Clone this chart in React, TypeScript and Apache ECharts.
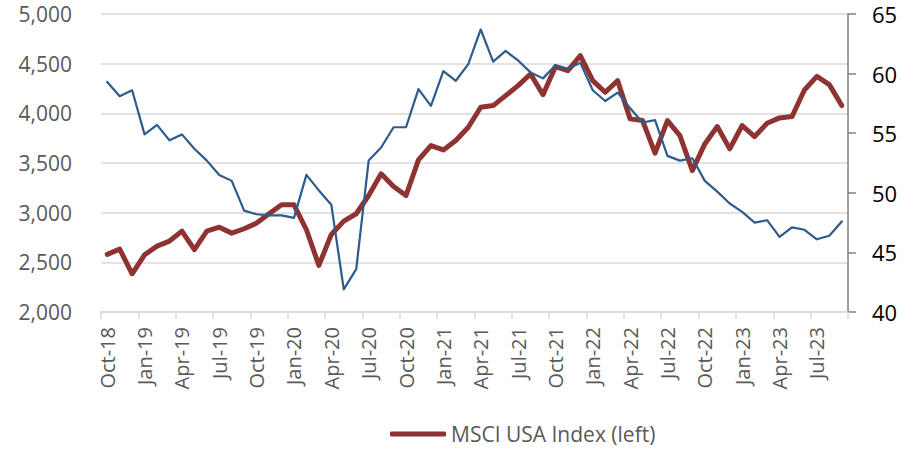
import React, { useEffect, useRef } from "react";
import * as echarts from "echarts";

const months: string[] = [
  "Oct-18", "Nov-18", "Dec-18",
  "Jan-19", "Feb-19", "Mar-19", "Apr-19", "May-19", "Jun-19", "Jul-19", "Aug-19", "Sep-19", "Oct-19", "Nov-19", "Dec-19",
  "Jan-20", "Feb-20", "Mar-20", "Apr-20", "May-20", "Jun-20", "Jul-20", "Aug-20", "Sep-20", "Oct-20", "Nov-20", "Dec-20",
  "Jan-21", "Feb-21", "Mar-21", "Apr-21", "May-21", "Jun-21", "Jul-21", "Aug-21", "Sep-21", "Oct-21", "Nov-21", "Dec-21",
  "Jan-22", "Feb-22", "Mar-22", "Apr-22", "May-22", "Jun-22", "Jul-22", "Aug-22", "Sep-22", "Oct-22", "Nov-22", "Dec-22",
  "Jan-23", "Feb-23", "Mar-23", "Apr-23", "May-23", "Jun-23", "Jul-23", "Aug-23", "Sep-23",
];

const msciUsa: number[] = [
  2580, 2633, 2385, 2576, 2663, 2714, 2814, 2627, 2814, 2854,
  2794, 2838, 2895, 2989, 3079, 3079, 2828, 2469, 2781, 2915,
  2989, 3173, 3391, 3263, 3173, 3531, 3676, 3632, 3726, 3860,
  4061, 4078, 4178, 4279, 4396, 4188, 4470, 4430, 4580, 4329,
  4212, 4329, 3944, 3927, 3599, 3927, 3776, 3424, 3692, 3867,
  3642, 3877, 3766, 3900, 3954, 3967, 4235, 4372, 4289, 4078,
];

const pmi: number[] = [
  59.3, 58.1, 58.6, 54.9, 55.7, 54.4, 54.9, 53.7, 52.7, 51.5,
  51.0, 48.5, 48.2, 48.1, 48.1, 47.9, 51.5, 50.2, 49.0, 41.9,
  43.6, 52.7, 53.8, 55.5, 55.5, 58.7, 57.3, 60.2, 59.4, 60.8,
  63.7, 61.0, 61.9, 61.1, 60.1, 59.6, 60.7, 60.4, 60.9, 58.6,
  57.7, 58.4, 57.1, 55.9, 56.1, 53.1, 52.7, 52.9, 51.0, 50.1,
  49.1, 48.4, 47.5, 47.7, 46.3, 47.1, 46.9, 46.1, 46.4, 47.6,
];

const FONT = "'Open Sans', sans-serif";

export default function App() {
  const ref = useRef<HTMLDivElement>(null);

  useEffect(() => {
    if (!ref.current) return;
    const chart = echarts.init(ref.current, null, { renderer: "svg" });
    chart.setOption({
      animation: false,
      backgroundColor: "#ffffff",
      grid: { left: 101, right: 68, top: 14, bottom: 139, containLabel: false },
      legend: {
        data: ["MSCI USA Index (left)"],
        left: 390,
        top: 420,
        padding: 0,
        icon: "roundRect",
        itemWidth: 56,
        itemHeight: 5,
        textStyle: { fontFamily: FONT, fontSize: 21, color: "#595959", lineHeight: 28 },
      },
      xAxis: {
        type: "category",
        data: months,
        boundaryGap: true,
        axisLine: { show: true, lineStyle: { color: "#d9d9d9", width: 1.5 } },
        axisTick: { show: true, interval: 2, length: 7, lineStyle: { color: "#d9d9d9", width: 1.5 } },
        axisLabel: {
          interval: 2,
          rotate: 90,
          margin: 15,
          fontFamily: FONT,
          fontSize: 20,
          color: "#595959",
        },
        splitLine: { show: false },
      },
      yAxis: [
        {
          type: "value",
          min: 2000,
          max: 5000,
          interval: 500,
          position: "left",
          axisLine: { show: false },
          axisTick: { show: false },
          axisLabel: {
            margin: 29,
            fontFamily: FONT,
            fontSize: 21,
            color: "#595959",
            formatter: (v: number) => v.toLocaleString("en-US"),
          },
          splitLine: { show: true, lineStyle: { color: "#d9d9d9", width: 1.5 } },
        },
        {
          type: "value",
          min: 40,
          max: 65,
          interval: 5,
          position: "right",
          axisLine: { show: true, lineStyle: { color: "#808080", width: 1.5 } },
          axisTick: { show: true, inside: false, length: 8, lineStyle: { color: "#808080", width: 1.5 } },
          axisLabel: {
            margin: 24,
            fontFamily: FONT,
            fontSize: 22,
            color: "#000000",
          },
          splitLine: { show: false },
        },
      ],
      series: [
        {
          name: "MSCI USA Index (left)",
          type: "line",
          yAxisIndex: 0,
          data: msciUsa,
          showSymbol: false,
          symbol: "none",
          lineStyle: { color: "#8e3232", width: 5, cap: "round", join: "round" },
          itemStyle: { color: "#8e3232" },
        },
        {
          name: "ISM Manufacturing PMI (right)",
          type: "line",
          yAxisIndex: 1,
          data: pmi,
          showSymbol: false,
          symbol: "none",
          lineStyle: { color: "#2c5b8e", width: 2.2, cap: "round", join: "round" },
          itemStyle: { color: "#2c5b8e" },
        },
      ],
    });
    return () => chart.dispose();
  }, []);

  return (
    <div
      ref={ref}
      style={{ position: "fixed", left: 0, top: 0, width: 916, height: 451, background: "#fff" }}
    />
  );
}
